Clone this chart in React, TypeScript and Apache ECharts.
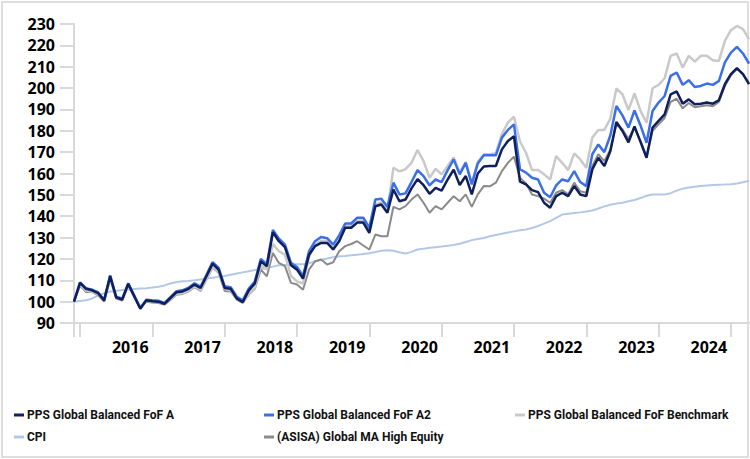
import React, { useEffect, useRef } from "react";
import * as echarts from "echarts";

// Monthly categories: Dec 2015 .. Apr 2025 (113 months)
const START_YEAR = 2015;
const START_MONTH = 11; // December (0-based)
const N_POINTS = 113;
const categories: string[] = [];
for (let i = 0; i < N_POINTS; i++) {
  const m = START_MONTH + i;
  const y = START_YEAR + Math.floor(m / 12);
  const mm = (m % 12) + 1;
  categories.push(`${y}-${mm < 10 ? "0" + mm : mm}`);
}

const yTicks = [90, 100, 110, 120, 130, 140, 150, 160, 170, 180, 190, 200, 210, 220, 230];

const fofA = [
  100, 108.8, 106, 105.3, 104, 100.6, 111.9, 102, 101, 108.3,
  102.5, 96.7, 100.6, 100.2, 100, 99, 101.7, 104.4, 104.8, 106,
  108, 106.4, 112, 117.8, 115, 106.4, 106, 101.5, 99.8, 105.3,
  108.5, 119, 116.5, 132.5, 128.3, 125.5, 117, 115, 110.8, 122,
  126, 127.5, 127.5, 124.4, 128.3, 134.6, 134.6, 137, 137, 132.2,
  144.7, 145.5, 141.6, 152.5, 147, 147.8, 153, 157.4, 154.5, 150.5,
  153.3, 152, 157.2, 161.8, 154.6, 158.8, 150.2, 160, 163.3, 163.5,
  163.5, 171.3, 175.2, 177.4, 156.2, 154.9, 152.2, 151.3, 146.3, 144,
  149.4, 151, 149.4, 154.1, 150.2, 149.4, 161.9, 167.4, 163.5, 170.5,
  184.1, 179.9, 174.6, 182, 174.8, 167.4, 181.5, 184.6, 187.7, 197.1,
  198.4, 192.7, 194.7, 192.4, 192.7, 193.2, 192.7, 194.3, 201.8, 206.5,
  209.3, 206.5, 201.8,
];

const fofA2 = [
  100, 109, 106.3, 105.6, 104.3, 100.9, 112.3, 102.3, 101.3, 108.6,
  102.8, 97, 100.9, 100.6, 100.4, 99.4, 102.1, 104.9, 105.3, 106.5,
  108.6, 107, 112.7, 118.5, 115.8, 107.2, 106.8, 102.3, 100.6, 106.1,
  109.4, 120, 117.5, 133.6, 129.5, 126.7, 118.2, 116.2, 112, 123.6,
  128.3, 130.3, 129.7, 126.7, 131, 136.6, 136.6, 139.3, 139.3, 134.6,
  147.8, 148.2, 144.4, 155.7, 150.2, 150.7, 156, 161.6, 158.8, 154.4,
  157.2, 156, 161.6, 166.6, 159.6, 165, 154.9, 164.7, 168.5, 168.5,
  168.5, 176.8, 180.4, 183, 162, 160.4, 158, 157.2, 151, 148.9,
  154.4, 157.2, 156.4, 161.1, 156, 154.1, 169, 173.6, 170, 177.9,
  191.6, 187.2, 181.5, 189.5, 182.5, 174.4, 189.3, 193.2, 196.3, 205.7,
  207.3, 201.5, 203.7, 200.5, 201, 202.1, 201.5, 203.3, 212, 216.6,
  219.3, 216.2, 211.5,
];

const benchmark = [
  100, 108, 105.2, 104.8, 103.5, 100.6, 110.8, 102.5, 101.5, 107.6,
  102.5, 97.5, 100.4, 100, 99.8, 99.2, 101.2, 103.6, 104, 105.2,
  107.2, 105.5, 110.8, 116.5, 114, 106, 105.3, 101.5, 99.6, 103.8,
  106.5, 117.2, 115, 127, 123.6, 122, 112, 109.5, 108.5, 121,
  126.5, 128.5, 128.3, 125.2, 129, 135.4, 135.5, 138, 138, 133,
  145.5, 146.5, 142.5, 162.7, 161, 162, 165, 171, 165.8, 158,
  162.2, 159.6, 163.5, 167.5, 160.5, 165.5, 155.5, 165.5, 169, 169,
  169.5, 178.5, 183.8, 186.6, 175, 169.7, 161.6, 161.6, 159.6, 157.2,
  168.2, 165, 161.6, 169.4, 166.6, 162.7, 176.8, 180.4, 180.4, 185.7,
  199.8, 197.1, 189.7, 197.5, 189.3, 183.8, 199.9, 201.5, 204.6, 215.1,
  216.2, 209.6, 215.1, 212.4, 215.1, 215.1, 213, 212.7, 222.1, 227.1,
  229.1, 227.6, 222.9,
];

const cpi = [
  100, 100.3, 100.6, 101.5, 102.8, 104, 104.7, 105, 105.4, 105.7,
  105.9, 106.1, 106.3, 106.6, 107, 107.6, 108.5, 109.2, 109.5, 109.7,
  110, 110.4, 110.8, 111.2, 111.6, 112, 112.6, 113.2, 113.7, 114.2,
  114.8, 115.3, 115.8, 116.4, 117, 117.2, 117.4, 117.5, 117.5, 118,
  118.8, 119.5, 120.2, 120.8, 121.2, 121.4, 121.7, 122, 122.3, 122.7,
  123.2, 123.8, 124.1, 123.8, 123.1, 122.5, 123.3, 124.4, 124.8, 125.2,
  125.5, 125.8, 126.2, 126.5, 127.1, 127.9, 128.8, 129.3, 129.8, 130.6,
  131.2, 131.8, 132.4, 132.9, 133.4, 133.8, 134.5, 135.4, 136.5, 137.7,
  139.2, 140.8, 141.2, 141.5, 141.8, 142.2, 142.7, 143.6, 144.6, 145.4,
  145.9, 146.3, 147, 147.6, 148.5, 149.6, 150.2, 150.2, 150.2, 150.8,
  152, 152.9, 153.4, 153.8, 154.2, 154.4, 154.6, 154.7, 154.8, 155,
  155.3, 155.9, 156.6,
];

const asisa = [
  100, 107.5, 104.5, 104.5, 103, 100, 110.5, 101.5, 100.5, 107.5,
  102, 97, 100, 99.6, 99.4, 98.6, 100.8, 103.2, 103.6, 104.8,
  106.8, 105, 110.5, 116, 113.5, 105, 104.8, 101, 99.4, 103.3,
  106, 115, 111.9, 122.8, 118.1, 116.6, 108.8, 108, 105.6, 115,
  118.9, 119.7, 117.4, 118.4, 123.6, 126, 127, 128.3, 126.3, 124.4,
  131.4, 130.6, 130.6, 144.4, 143.2, 144.7, 147.8, 150.2, 146.3, 141.6,
  144.7, 143.2, 146.3, 149.4, 147, 150.2, 144.4, 150.2, 154.1, 154,
  155.7, 161.1, 165, 167.9, 158, 155.3, 150.2, 149.4, 148.2, 146.3,
  151, 152.2, 150.2, 155.7, 151.7, 151, 163.5, 169, 165.8, 171.3,
  183, 180.7, 176.3, 181.5, 175.2, 168, 180, 183, 186, 193.5,
  195, 190.5, 193, 191, 191.5, 192, 191.5, 193.5, 201, 206,
  209, 206.5, 202.5,
];

const NAME_A = "PPS Global Balanced FoF A";
const NAME_A2 = "PPS Global Balanced FoF A2";
const NAME_B = "PPS Global Balanced FoF Benchmark";
const NAME_CPI = "CPI";
const NAME_ASISA = "(ASISA) Global MA High Equity";

const COL_A = "#0f1f5c";
const COL_A2 = "#3b6fe8";
const COL_B = "#c9c9c9";
const COL_CPI = "#b3c8e8";
const COL_ASISA = "#8a8a8a";

const AXIS_COLOR = "#d9d9d9";
const LABEL_FONT = "'Open Sans', sans-serif";
const LEGEND_FONT = "Roboto, sans-serif";

function legendAt(name: string, left: number, top: number) {
  return {
    data: [name],
    left,
    top,
    orient: "horizontal",
    icon: "rect",
    itemWidth: 10,
    itemHeight: 3,
    itemGap: 0,
    padding: 0,
    selectedMode: false,
    textStyle: {
      color: "#111",
      fontFamily: LEGEND_FONT,
      fontWeight: "bold",
      fontSize: 12,
      padding: [0, 0, 0, -2],
    },
  };
}

export default function App() {
  const ref = useRef<HTMLDivElement>(null);
  useEffect(() => {
    if (!ref.current) return;
    const chart = echarts.init(ref.current, undefined, { renderer: "svg" });
    const line = (name: string, data: number[], color: string, width: number) => ({
      name,
      type: "line",
      data,
      color,
      showSymbol: false,
      symbol: "none",
      lineStyle: { color, width },
      emphasis: { disabled: true },
    });
    chart.setOption({
      animation: false,
      backgroundColor: "#ffffff",
      graphic: [
        {
          type: "rect",
          shape: { x: 2, y: 2, width: 746, height: 455 },
          style: { fill: "none", stroke: "#dedede", lineWidth: 2 },
          silent: true,
        },
      ],
      grid: { left: 74, top: 24, width: 675, height: 299, containLabel: false },
      xAxis: {
        type: "category",
        data: categories,
        boundaryGap: false,
        axisLine: { lineStyle: { color: AXIS_COLOR, width: 2 } },
        axisTick: {
          interval: (i: number) => i === 0 || i % 12 === 1,
          length: 14,
          lineStyle: { color: AXIS_COLOR, width: 2 },
        },
        axisLabel: {
          interval: (i: number) => i % 12 === 9,
          formatter: (v: string) => v.slice(0, 4),
          color: "#000",
          fontFamily: LABEL_FONT,
          fontWeight: "bold",
          fontSize: 16,
          margin: 16,
          padding: [0, 0, 0, 4],
        },
        splitLine: { show: false },
      },
      yAxis: {
        type: "value",
        min: yTicks[0],
        max: yTicks[yTicks.length - 1],
        interval: 10,
        axisLine: { show: true, lineStyle: { color: AXIS_COLOR, width: 2 } },
        axisTick: { show: true, length: 14, lineStyle: { color: AXIS_COLOR, width: 2 } },
        axisLabel: {
          color: "#000",
          fontFamily: LABEL_FONT,
          fontWeight: "bold",
          fontSize: 16,
          margin: 19,
        },
        splitLine: { show: false },
      },
      legend: [
        legendAt(NAME_A, 14, 409),
        legendAt(NAME_A2, 264, 409),
        legendAt(NAME_B, 515, 409),
        legendAt(NAME_CPI, 14, 431),
        legendAt(NAME_ASISA, 264, 431),
      ],
      series: [
        line(NAME_CPI, cpi, COL_CPI, 2),
        line(NAME_ASISA, asisa, COL_ASISA, 2),
        line(NAME_B, benchmark, COL_B, 2.5),
        line(NAME_A2, fofA2, COL_A2, 2.5),
        line(NAME_A, fofA, COL_A, 2.5),
      ],
    });
    return () => chart.dispose();
  }, []);
  return (
    <div
      ref={ref}
      style={{ position: "absolute", left: 0, top: 0, width: 750, height: 459, background: "#fff" }}
    />
  );
}
